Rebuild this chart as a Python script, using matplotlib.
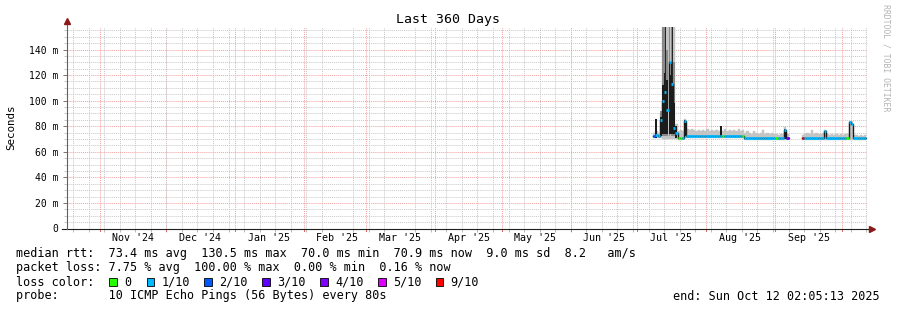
"""Smokeping-style 360-day latency chart, written to out.png."""
from datetime import datetime
import numpy as np
import matplotlib
matplotlib.use("Agg")
import matplotlib.pyplot as plt
import matplotlib.dates as mdates
from matplotlib.patches import Rectangle

MONO = "DejaVu Sans Mono"
LOSS_COL = {0: "#26ff00", 1: "#00b8ff", 2: "#0059ff", 3: "#5e00ff",
            4: "#7e00ff", 5: "#dd00ff", 9: "#ff0000"}
GRID, MGRID = "#c8c8c8", "#f2a0a0"

t_start = datetime(2024, 10, 17, 2, 5, 13)
t_end = datetime(2025, 10, 12, 2, 5, 13)
data_start = datetime(2025, 7, 8, 2, 0)
nan = np.nan

# one value per day from Jul 8 2025, ms
median_ms = [72, 73, 72, 85, 100, 107, 93, 130.5, 113, 78.5,
             75, 70.5, 70.5, 71, 84, 72, 72, 72, 72, 72,
             72, 72, 72, 72, 72, 72, 72, 72, 72, 72,
             72, 72, 72, 72, 72, 72, 72, 72, 72, 72,
             72, 70.5, 70.5, 70.5, 70.5, 70.5, 70.5, 70.5, 70.5, 70.5,
             70.5, 70.5, 70.5, 70.5, 70.5, 70.5, 70.5, 70.5, 70.5, 77,
             70.5, nan, nan, nan, nan, nan, nan, 70.7, 70.7, 70.7,
             70.7, 70.7, 70.7, 70.7, 70.7, 70.7, 70.7, 76, 70.7, 70.7,
             70.7, 70.7, 70.7, 70.7, 70.7, 70.7, 70.7, 71, 83, 82,
             71, 71, 71, 71, 71, 71]
smoke_hi = [75, 76, 75, 90, 160, 160, 160, 160, 160, 160,
            82, 76, 77, 76, 86, 78, 77, 78, 77, 76,
            77, 76, 77, 76, 78, 76, 77, 76, 77, 76,
            77, 76, 78, 76, 77, 76, 77, 76, 78, 76,
            77, 75, 76, 75, 74, 76, 75, 74, 75, 77,
            74, 75, 74, 75, 74, 74, 73, 74, 74, 79,
            74, nan, nan, nan, nan, nan, nan, 73, 74, 75,
            74, 77, 74, 75, 74, 74, 75, 77, 74, 73,
            74, 73, 74, 73, 74, 73, 74, 74, 84, 84,
            73, 73, 72, 73, 72, 73]
smoke_lo = [70.5, 71, 70.5, 71, 70, 70, 70, 70, 70, 70,
            70, 69.5, 69.5, 70, 70.5, 70.5, 70.5, 70.5, 70.5, 70.5,
            70.5, 70.5, 70.5, 70.5, 70.5, 70.5, 70.5, 70.5, 70.5, 70.5,
            70.5, 70.5, 70.5, 70.5, 70.5, 70.5, 70.5, 70.5, 70.5, 70.5,
            70.5, 69.5, 69.5, 69.5, 69.5, 69.5, 69.5, 69.5, 69.5, 69.5,
            69.5, 69.5, 69.5, 69.5, 69.5, 69.5, 69.5, 69.5, 69.5, 69.5,
            69.5, nan, nan, nan, nan, nan, nan, 69.5, 69.5, 69.5,
            69.5, 69.5, 69.5, 69.5, 69.5, 69.5, 69.5, 69.5, 69.5, 69.5,
            69.5, 69.5, 69.5, 69.5, 69.5, 69.5, 69.5, 69.5, 69.5, 69.5,
            69.5, 69.5, 69.5, 69.5, 69.5, 69.5]
loss = [2, 1, 1, 1, 1, 1, 1, 1, 1, 1,
        1, 0, 0, 1, 1, 1, 1, 1, 1, 1,
        1, 1, 1, 1, 1, 1, 1, 1, 1, 1,
        1, 0, 1, 1, 1, 1, 1, 1, 1, 1,
        0, 1, 1, 1, 1, 1, 1, 1, 1, 1,
        1, 1, 1, 1, 1, 0, 1, 1, 1, 1,
        3, 1, 1, 1, 1, 1, 1, 9, 1, 1,
        1, 1, 1, 1, 1, 1, 1, 1, 1, 1,
        1, 1, 1, 1, 1, 1, 1, 0, 1, 1,
        1, 1, 1, 1, 1, 1]

# denser smoke inside the early-July burst
mid_days = [3, 4, 5, 6, 7, 8, 9, 10]
mid_lo = [73, 72, 72, 72, 72, 72, 72, 71]
mid_hi = [92, 160, 160, 140, 160, 160, 130, 78]
dark_days = [1, 3, 4, 5, 6, 7, 8, 9, 10, 14, 30, 59]
dark_lo = [71, 72, 74, 74, 74, 74, 74, 74, 71, 72, 72, 70]
dark_hi = [86, 87, 112, 122, 116, 120, 118, 98, 80, 85, 80, 78]
# thin streaks that reach the top of the burst
streak_days = [5.4, 8.4]
streak_lo = [110, 110]
streak_hi = [160, 160]

y_ticks = [0, 20, 40, 60, 80, 100, 120, 140]
y_labels = ["0", "20 m", "40 m", "60 m", "80 m", "100 m", "120 m", "140 m"]
month_labels = ["Nov '24", "Dec '24", "Jan '25", "Feb '25", "Mar '25", "Apr '25",
                "May '25", "Jun '25", "Jul '25", "Aug '25", "Sep '25"]
month_starts = [datetime(2024, 11, 1), datetime(2024, 12, 1), datetime(2025, 1, 1),
                datetime(2025, 2, 1), datetime(2025, 3, 1), datetime(2025, 4, 1),
                datetime(2025, 5, 1), datetime(2025, 6, 1), datetime(2025, 7, 1),
                datetime(2025, 8, 1), datetime(2025, 9, 1), datetime(2025, 10, 1)]

line_rtt = "median rtt:  73.4 ms avg  130.5 ms max  70.0 ms min  70.9 ms now  9.0 ms sd  8.2   am/s"
line_loss = "packet loss: 7.75 % avg  100.00 % max  0.00 % min  0.16 % now"
loss_keys = [0, 1, 2, 3, 4, 5, 9]
loss_names = ["0", "1/10", "2/10", "3/10", "4/10", "5/10", "9/10"]
line_probe = "probe:       10 ICMP Echo Pings (56 Bytes) every 80s"
end_text = "end: Sun Oct 12 02:05:13 2025"

W, H = 897, 310
fig = plt.figure(figsize=(W / 100, H / 100), dpi=100)
fig.patch.set_facecolor("white")
ax = fig.add_axes([66.5 / W, (H - 228.5) / H, 800 / W, 201.5 / H])
for s in ax.spines.values():
    s.set_visible(False)

x0 = mdates.date2num(data_start)
xd = x0 + np.arange(len(median_ms))
med = np.array(median_ms, float)
hi = np.array(smoke_hi, float)
lo = np.array(smoke_lo, float)

# smoke
ax.bar(xd, hi - lo, bottom=lo, width=1, align="edge", color="#c4c4c4",
       edgecolor="#c4c4c4", lw=0.3, zorder=2)
ax.bar(x0 + np.array(mid_days), np.subtract(mid_hi, mid_lo), bottom=mid_lo, width=0.8,
       align="edge", color="#8a8a8a", lw=0, zorder=3)
ax.bar(x0 + np.array(dark_days), np.subtract(dark_hi, dark_lo), bottom=dark_lo, width=0.9,
       align="edge", color="#1c1c1c", lw=0, zorder=4)
ax.bar(x0 + np.array(streak_days), np.subtract(streak_hi, streak_lo), bottom=streak_lo,
       width=0.45, align="edge", color="#262626", lw=0, zorder=4)

# median: black step underneath, loss-coloured segments on top
xe = np.append(xd, xd[-1] + 1)
ax.step(xe, np.append(med, med[-1]), where="post", color="#1c1c1c", lw=1.0, zorder=5)
ok = ~np.isnan(med)
ax.hlines(med[ok], xd[ok], xd[ok] + 1, colors=[LOSS_COL[l] for l in np.array(loss)[ok]],
          lw=2.0, zorder=6)

ax.set_xlim(mdates.date2num(t_start), mdates.date2num(t_end))
ax.set_ylim(0, 157.6)

# grids
ax.set_yticks(y_ticks)
ax.set_yticklabels(y_labels, family=MONO, fontsize=7)
ax.set_yticks(np.arange(0, 157, 5), minor=True)
ax.yaxis.grid(True, which="minor", color=GRID, ls=(0, (1, 1)), lw=0.7, zorder=0)
ax.yaxis.grid(True, which="major", color=MGRID, ls=(0, (1, 1)), lw=0.7, zorder=0)
ax.xaxis.set_minor_locator(mdates.WeekdayLocator(byweekday=mdates.SU))
ax.xaxis.grid(True, which="minor", color=GRID, ls=(0, (1, 1)), lw=0.7, zorder=0)
for m in month_starts:
    ax.axvline(m, color=MGRID, ls=(0, (1, 1)), lw=0.7, zorder=0.5)
    ax.plot([m, m], [0, -0.012], color="#e06060", lw=0.7,
            transform=ax.get_xaxis_transform(), clip_on=False)
ax.set_xticks([datetime(m.year, m.month, 16) for m in month_starts[:-1]])
ax.set_xticklabels(month_labels, family=MONO, fontsize=7.2)
ax.tick_params(axis="x", which="major", length=0, pad=3.5)
ax.tick_params(axis="x", which="minor", length=2, color="#b0b0b0", width=0.6)
ax.tick_params(axis="y", which="major", length=3, width=0.6, color="#606060", pad=3)
ax.tick_params(axis="y", which="minor", length=2, width=0.5, color="#b0b0b0")
ax.set_axisbelow(True)

# axes with arrow heads
ax.plot([-0.006, 1.004], [0, 0], transform=ax.transAxes, color="#202020", lw=0.8, clip_on=False, zorder=7)
ax.plot([0, 0], [0, 1.025], transform=ax.transAxes, color="#606060", lw=0.8, clip_on=False, zorder=7)
ax.plot([1.007], [0], marker=">", ms=4, color="#8b1a1a", transform=ax.transAxes, clip_on=False, zorder=8)
ax.plot([0], [1.028], marker="^", ms=4, color="#8b1a1a", transform=ax.transAxes, clip_on=False, zorder=8)

# titles
fig.text(448 / W, 1 - 19 / H, "Last 360 Days", ha="center", va="center", family=MONO, fontsize=9.5)
fig.text(11 / W, 1 - 127 / H, "Seconds", rotation=90, ha="center", va="center", family=MONO, fontsize=7.8)
fig.text(886 / W, 1 - 4 / H, "RRDTOOL / TOBI OETIKER", rotation=270, ha="center", va="top",
         family=MONO, fontsize=5.9, color="#b4b4b4")

# legend block
fs = 8.5
fig.text(16 / W, 1 - 254 / H, line_rtt, va="center", family=MONO, fontsize=fs)
fig.text(16 / W, 1 - 268 / H, line_loss, va="center", family=MONO, fontsize=fs)
fig.text(16 / W, 1 - 282 / H, "loss color:", va="center", family=MONO, fontsize=fs)
sq_x = [109, 146.5, 204, 262, 320, 378, 435.5]
for k, name, sx in zip(loss_keys, loss_names, sq_x):
    fig.add_artist(Rectangle((sx / W, 1 - 286 / H), 7.5 / W, 8 / H, transform=fig.transFigure,
                             facecolor=LOSS_COL[k], edgecolor="black", lw=0.6))
    fig.text((sx + 15) / W, 1 - 282 / H, name, va="center", family=MONO, fontsize=fs)
fig.text(16 / W, 1 - 296 / H, line_probe, va="center", family=MONO, fontsize=fs)
fig.text(880 / W, 1 - 296 / H, end_text, va="center", ha="right", family=MONO, fontsize=fs)

fig.savefig("out.png", dpi=100)
